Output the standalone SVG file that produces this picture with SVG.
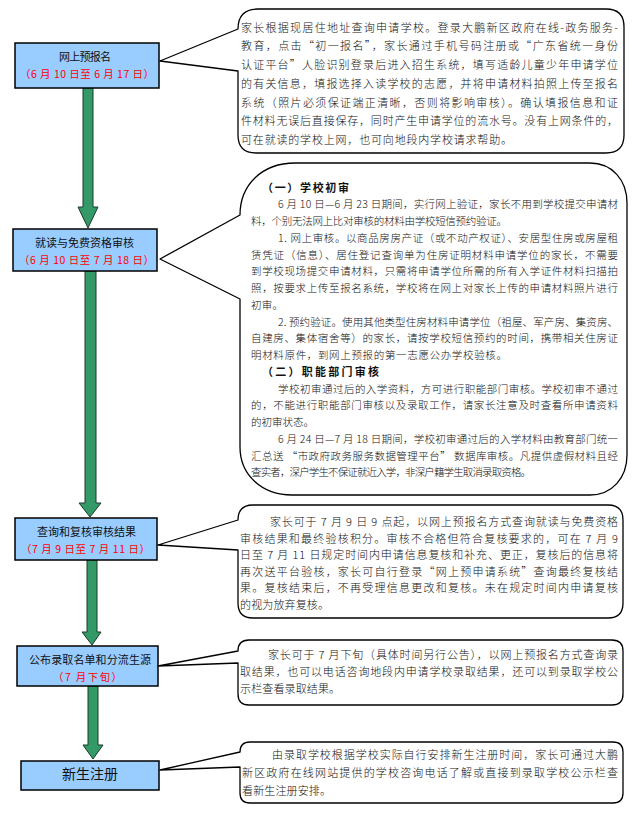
<svg xmlns="http://www.w3.org/2000/svg" width="640" height="818" viewBox="0 0 640 818">
<style>
.box{fill:#99CCFF;stroke:#000;stroke-width:1.5}
.call{fill:#fff;stroke:#000;stroke-width:1.3;stroke-linejoin:round}
.t{font-family:"Noto Sans CJK SC","Noto Sans",sans-serif;font-size:11px;font-weight:300;fill:#111}
.t2{font-family:"Noto Sans CJK SC","Noto Sans",sans-serif;font-size:10.5px;font-weight:300;fill:#111}
.h{font-family:"Noto Sans CJK SC","Noto Sans",sans-serif;font-size:11px;font-weight:bold;fill:#111}
.bt{font-family:"Noto Sans CJK SC","Noto Sans",sans-serif;font-size:11px;fill:#111}
.red{fill:#FF0000;font-size:10.5px}
.arrow{fill:#339966;stroke:#1b3b2a;stroke-width:1;stroke-linejoin:miter}
</style>
<rect width="640" height="818" fill="#fff"/>

<g id="connectors">
<path class="arrow" d="M83,88 L93,88 L93,207 L98,207 L88,228 L78,207 L83,207 Z"/>
<path class="arrow" d="M85,271 L96,271 L96,503 L101,503 L90,517 L79,503 L85,503 Z"/>
<path class="arrow" d="M87,560 L97,560 L97,632 L101,632 L92,645 L82,632 L87,632 Z"/>
<path class="arrow" d="M88,686 L98,686 L98,745 L103,745 L93,759 L83,745 L88,745 Z"/>
</g>

<g id="node-step1">
<rect class="box" x="15" y="43" width="144" height="45"/>
<text class="bt" x="59" y="61" textLength="52" lengthAdjust="spacing">网上预报名</text>
<text class="bt red" x="20" y="78" textLength="134" lengthAdjust="spacing">（6 月 10 日至 6 月 17 日）</text>
</g>

<g id="note-step1">
<path class="call" d="M238,29 Q238,9 258,9 L606,9 Q624,9 624,27 L624,135 Q624,153 606,153 L256,153 Q238,153 238,135 L238,71 L160,61 Z"/>
<text class="t" x="241" y="31.5" textLength="377" lengthAdjust="spacing">家长根据现居住地址查询申请学校。登录大鹏新区政府在线-政务服务-</text>
<text class="t" x="241" y="50.3" textLength="377" lengthAdjust="spacing">教育，点击“初一报名”，家长通过手机号码注册或“广东省统一身份</text>
<text class="t" x="241" y="69" textLength="377" lengthAdjust="spacing">认证平台”人脸识别登录后进入招生系统，填写适龄儿童少年申请学位</text>
<text class="t" x="241" y="87.8" textLength="377" lengthAdjust="spacing">的有关信息，填报选择入读学校的志愿，并将申请材料拍照上传至报名</text>
<text class="t" x="241" y="106.5" textLength="377" lengthAdjust="spacing">系统（照片必须保证端正清晰，否则将影响审核）。确认填报信息和证</text>
<text class="t" x="241" y="125.3" textLength="377" lengthAdjust="spacing">件材料无误后直接保存，同时产生申请学位的流水号。没有上网条件的，</text>
<text class="t" x="241" y="144" textLength="271" lengthAdjust="spacing">可在就读的学校上网，也可向地段内学校请求帮助。</text>
</g>

<g id="node-step2">
<rect class="box" x="13" y="229" width="144" height="42"/>
<text class="bt" x="35" y="247" textLength="99" lengthAdjust="spacing">就读与免费资格审核</text>
<text class="bt red" x="19" y="264" textLength="135" lengthAdjust="spacing">（6 月 10 日至 7 月 18 日）</text>
</g>

<g id="note-step2">
<path class="call" d="M240,215 C240,185 262,163 295,163 L590,163 C612,163 627,180 627,203 L627,455 C627,478 612,495 590,495 L292,495 C262,495 240,475 240,447 L240,299 L160,259 Z"/>
<text class="h" x="262" y="191.5" textLength="87" lengthAdjust="spacing">（一）学校初审</text>
<text class="t2" x="278" y="208.3" textLength="340" lengthAdjust="spacing">6 月 10 日—6 月 23 日期间，实行网上验证，家长不用到学校提交申请材</text>
<text class="t2" x="251" y="225" textLength="256" lengthAdjust="spacing">料，个别无法网上比对审核的材料由学校短信预约验证。</text>
<text class="t2" x="278" y="241.8" textLength="340" lengthAdjust="spacing">1. 网上审核。以商品房房产证（或不动产权证）、安居型住房或房屋租</text>
<text class="t2" x="251" y="258.5" textLength="367" lengthAdjust="spacing">赁凭证（信息）、居住登记查询单为住房证明材料申请学位的家长，不需要</text>
<text class="t2" x="251" y="275.3" textLength="367" lengthAdjust="spacing">到学校现场提交申请材料，只需将申请学位所需的所有入学证件材料扫描拍</text>
<text class="t2" x="251" y="292" textLength="367" lengthAdjust="spacing">照，按要求上传至报名系统，学校将在网上对家长上传的申请材料照片进行</text>
<text class="t2" x="251" y="308.8" textLength="32" lengthAdjust="spacing">初审。</text>
<text class="t2" x="278" y="325.5" textLength="340" lengthAdjust="spacing">2. 预约验证。使用其他类型住房材料申请学位（祖屋、军产房、集资房、</text>
<text class="t2" x="251" y="342.3" textLength="367" lengthAdjust="spacing">自建房、集体宿舍等）的家长，请按学校短信预约的时间，携带相关住房证</text>
<text class="t2" x="251" y="359" textLength="256" lengthAdjust="spacing">明材料原件，到网上预报的第一志愿公办学校验核。</text>
<text class="h" x="262" y="375.8" textLength="117" lengthAdjust="spacing">（二）职能部门审核</text>
<text class="t2" x="278" y="392.5" textLength="340" lengthAdjust="spacing">学校初审通过后的入学资料，方可进行职能部门审核。学校初审不通过</text>
<text class="t2" x="251" y="409.3" textLength="367" lengthAdjust="spacing">的，不能进行职能部门审核以及录取工作，请家长注意及时查看所申请资料</text>
<text class="t2" x="251" y="426" textLength="63" lengthAdjust="spacing">的初审状态。</text>
<text class="t2" x="278" y="442.8" textLength="340" lengthAdjust="spacing">6 月 24 日—7 月 18 日期间，学校初审通过后的入学材料由教育部门统一</text>
<text class="t2" x="251" y="459.5" textLength="367" lengthAdjust="spacing">汇总送 “市政府政务服务数据管理平台” 数据库审核。凡提供虚假材料且经</text>
<text class="t2" x="251" y="476.3" textLength="280" lengthAdjust="spacing">查实者，深户学生不保证就近入学，非深户籍学生取消录取资格。</text>
</g>

<g id="node-step3">
<rect class="box" x="15" y="518" width="142" height="42"/>
<text class="bt" x="37" y="536" textLength="99" lengthAdjust="spacing">查询和复核审核结果</text>
<text class="bt red" x="21" y="553" textLength="129" lengthAdjust="spacing">（7 月 9 日至 7 月 11 日）</text>
</g>

<g id="note-step3">
<path class="call" d="M238,520 Q238,505 253,505 L608,505 Q623,505 623,520 L623,603 Q623,618 608,618 L253,618 Q238,618 238,603 L238,550 L158,545 Z"/>
<text class="t" x="270" y="526" textLength="348" lengthAdjust="spacing">家长可于 7 月 9 日 9 点起，以网上预报名方式查询就读与免费资格</text>
<text class="t" x="240" y="542.6" textLength="378" lengthAdjust="spacing">审核结果和最终验核积分。审核不合格但符合复核要求的，可在 7 月 9</text>
<text class="t" x="240" y="559.2" textLength="378" lengthAdjust="spacing">日至 7 月 11 日规定时间内申请信息复核和补充、更正，复核后的信息将</text>
<text class="t" x="240" y="575.8" textLength="378" lengthAdjust="spacing">再次送平台验核，家长可自行登录“网上预申请系统”查询最终复核结</text>
<text class="t" x="240" y="592.4" textLength="378" lengthAdjust="spacing">果。复核结束后，不再受理信息更改和复核。未在规定时间内申请复核</text>
<text class="t" x="240" y="609" textLength="89" lengthAdjust="spacing">的视为放弃复核。</text>
</g>

<g id="node-step4">
<rect class="box" x="17" y="646" width="141" height="40"/>
<text class="bt" x="29" y="664" textLength="122" lengthAdjust="spacing">公布录取名单和分流生源</text>
<text class="bt red" x="53" y="681" textLength="69" lengthAdjust="spacing">（7 月下旬）</text>
</g>

<g id="note-step4">
<path class="call" d="M238,651 Q238,640 249,640 L612,640 Q623,640 623,651 L623,694 Q623,705 612,705 L249,705 Q238,705 238,694 L238,663 L158,666 Z"/>
<text class="t" x="268" y="659" textLength="350" lengthAdjust="spacing">家长可于 7 月下旬（具体时间另行公告），以网上预报名方式查询录</text>
<text class="t" x="240" y="676" textLength="378" lengthAdjust="spacing">取结果，也可以电话咨询地段内申请学校录取结果，还可以到录取学校公</text>
<text class="t" x="240" y="693" textLength="100" lengthAdjust="spacing">示栏查看录取结果。</text>
</g>

<g id="node-step5">
<rect class="box" x="21" y="761" width="138" height="29"/>
<text class="bt" x="62" y="778.5" style="font-size:14px" textLength="56" lengthAdjust="spacing">新生注册</text>
</g>

<g id="note-step5">
<path class="call" d="M240,752 Q240,742 250,742 L613,742 Q623,742 623,752 L623,793 Q623,803 613,803 L250,803 Q240,803 240,793 L240,767 L160,770 Z"/>
<text class="t" x="272" y="759" textLength="346" lengthAdjust="spacing">由录取学校根据学校实际自行安排新生注册时间，家长可通过大鹏</text>
<text class="t" x="242" y="777" textLength="376" lengthAdjust="spacing">新区政府在线网站提供的学校咨询电话了解或直接到录取学校公示栏查</text>
<text class="t" x="242" y="795" textLength="89" lengthAdjust="spacing">看新生注册安排。</text>
</g>
</svg>
